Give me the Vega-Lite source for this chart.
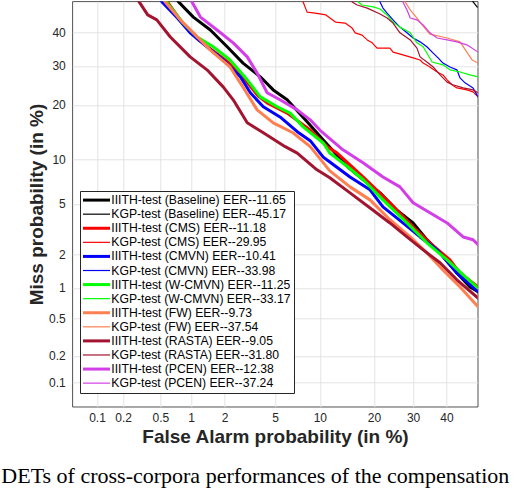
{
  "$schema": "https://vega.github.io/schema/vega-lite/v6.json",
  "autosize": {"type": "none"},
  "padding": {"left": 72.3, "top": 1.3, "right": 36.3, "bottom": 81.3},
  "width": 405.4,
  "height": 405.4,
  "background": "white",
  "title": {
    "text": "DETs of cross-corpora performances of the compensation",
    "orient": "bottom",
    "anchor": "start",
    "frame": "group",
    "dx": -71,
    "offset": 36,
    "baseline": "alphabetic",
    "font": "Liberation Serif",
    "fontSize": 22,
    "fontWeight": "normal",
    "color": "#000000"
  },
  "config": {
    "view": {"stroke": "#262626", "strokeWidth": 0.8},
    "font": "Liberation Sans",
    "legend": {"labelFontSize": 12.2, "labelFont": "Liberation Sans"}
  },
  "datasets": {
    "curves": [
      {"series": "IIITH-test (Baseline) EER--11.65", "fa": 0.69, "miss": 52.0},
      {"series": "IIITH-test (Baseline) EER--11.65", "fa": 0.76, "miss": 49.8},
      {"series": "IIITH-test (Baseline) EER--11.65", "fa": 1.05, "miss": 44.9},
      {"series": "IIITH-test (Baseline) EER--11.65", "fa": 1.50, "miss": 40.8},
      {"series": "IIITH-test (Baseline) EER--11.65", "fa": 2.10, "miss": 35.6},
      {"series": "IIITH-test (Baseline) EER--11.65", "fa": 2.84, "miss": 30.8},
      {"series": "IIITH-test (Baseline) EER--11.65", "fa": 3.88, "miss": 27.0},
      {"series": "IIITH-test (Baseline) EER--11.65", "fa": 4.85, "miss": 23.6},
      {"series": "IIITH-test (Baseline) EER--11.65", "fa": 6.10, "miss": 21.2},
      {"series": "IIITH-test (Baseline) EER--11.65", "fa": 8.31, "miss": 16.4},
      {"series": "IIITH-test (Baseline) EER--11.65", "fa": 10.5, "miss": 13.0},
      {"series": "IIITH-test (Baseline) EER--11.65", "fa": 14.5, "miss": 9.0},
      {"series": "IIITH-test (Baseline) EER--11.65", "fa": 17.6, "miss": 7.4},
      {"series": "IIITH-test (Baseline) EER--11.65", "fa": 21.4, "miss": 6.0},
      {"series": "IIITH-test (Baseline) EER--11.65", "fa": 25.6, "miss": 4.5},
      {"series": "IIITH-test (Baseline) EER--11.65", "fa": 30.0, "miss": 3.6},
      {"series": "IIITH-test (Baseline) EER--11.65", "fa": 34.0, "miss": 2.65},
      {"series": "IIITH-test (Baseline) EER--11.65", "fa": 38.0, "miss": 2.06},
      {"series": "IIITH-test (Baseline) EER--11.65", "fa": 43.3, "miss": 1.37},
      {"series": "IIITH-test (Baseline) EER--11.65", "fa": 47.5, "miss": 1.02},
      {"series": "IIITH-test (Baseline) EER--11.65", "fa": 50.1, "miss": 0.92},
      {"series": "IIITH-test (Baseline) EER--11.65", "fa": 52.7, "miss": 0.80},

      {"series": "KGP-test (Baseline) EER--45.17", "fa": 47.5, "miss": 52.0},
      {"series": "KGP-test (Baseline) EER--45.17", "fa": 48.5, "miss": 49.8},
      {"series": "KGP-test (Baseline) EER--45.17", "fa": 49.8, "miss": 48.2},
      {"series": "KGP-test (Baseline) EER--45.17", "fa": 52.7, "miss": 46.5},

      {"series": "IIITH-test (CMS) EER--11.18", "fa": 0.54, "miss": 52.0},
      {"series": "IIITH-test (CMS) EER--11.18", "fa": 0.59, "miss": 49.8},
      {"series": "IIITH-test (CMS) EER--11.18", "fa": 0.84, "miss": 42.7},
      {"series": "IIITH-test (CMS) EER--11.18", "fa": 1.17, "miss": 37.7},
      {"series": "IIITH-test (CMS) EER--11.18", "fa": 1.56, "miss": 34.6},
      {"series": "IIITH-test (CMS) EER--11.18", "fa": 2.14, "miss": 31.1},
      {"series": "IIITH-test (CMS) EER--11.18", "fa": 2.95, "miss": 26.2},
      {"series": "IIITH-test (CMS) EER--11.18", "fa": 3.74, "miss": 22.1},
      {"series": "IIITH-test (CMS) EER--11.18", "fa": 4.37, "miss": 20.5},
      {"series": "IIITH-test (CMS) EER--11.18", "fa": 6.10, "miss": 18.2},
      {"series": "IIITH-test (CMS) EER--11.18", "fa": 8.70, "miss": 14.8},
      {"series": "IIITH-test (CMS) EER--11.18", "fa": 11.1, "miss": 11.9},
      {"series": "IIITH-test (CMS) EER--11.18", "fa": 12.7, "miss": 10.9},
      {"series": "IIITH-test (CMS) EER--11.18", "fa": 17.6, "miss": 7.7},
      {"series": "IIITH-test (CMS) EER--11.18", "fa": 23.8, "miss": 5.10},
      {"series": "IIITH-test (CMS) EER--11.18", "fa": 30.0, "miss": 3.36},
      {"series": "IIITH-test (CMS) EER--11.18", "fa": 34.9, "miss": 2.50},
      {"series": "IIITH-test (CMS) EER--11.18", "fa": 41.1, "miss": 1.79},
      {"series": "IIITH-test (CMS) EER--11.18", "fa": 44.3, "miss": 1.37},
      {"series": "IIITH-test (CMS) EER--11.18", "fa": 50.1, "miss": 1.02},
      {"series": "IIITH-test (CMS) EER--11.18", "fa": 52.7, "miss": 0.92},

      {"series": "KGP-test (CMS) EER--29.95", "fa": 7.48, "miss": 52.0},
      {"series": "KGP-test (CMS) EER--29.95", "fa": 7.83, "miss": 49.8},
      {"series": "KGP-test (CMS) EER--29.95", "fa": 8.05, "miss": 48.2},
      {"series": "KGP-test (CMS) EER--29.95", "fa": 8.31, "miss": 46.5},
      {"series": "KGP-test (CMS) EER--29.95", "fa": 9.35, "miss": 46.2},
      {"series": "KGP-test (CMS) EER--29.95", "fa": 10.9, "miss": 45.6},
      {"series": "KGP-test (CMS) EER--29.95", "fa": 12.4, "miss": 43.3},
      {"series": "KGP-test (CMS) EER--29.95", "fa": 14.1, "miss": 43.0},
      {"series": "KGP-test (CMS) EER--29.95", "fa": 15.4, "miss": 41.4},
      {"series": "KGP-test (CMS) EER--29.95", "fa": 16.0, "miss": 39.9},
      {"series": "KGP-test (CMS) EER--29.95", "fa": 17.4, "miss": 39.2},
      {"series": "KGP-test (CMS) EER--29.95", "fa": 18.5, "miss": 37.7},
      {"series": "KGP-test (CMS) EER--29.95", "fa": 19.6, "miss": 36.8},
      {"series": "KGP-test (CMS) EER--29.95", "fa": 20.7, "miss": 35.2},
      {"series": "KGP-test (CMS) EER--29.95", "fa": 23.8, "miss": 35.2},
      {"series": "KGP-test (CMS) EER--29.95", "fa": 24.6, "miss": 34.0},
      {"series": "KGP-test (CMS) EER--29.95", "fa": 27.2, "miss": 33.2},
      {"series": "KGP-test (CMS) EER--29.95", "fa": 30.0, "miss": 32.3},
      {"series": "KGP-test (CMS) EER--29.95", "fa": 32.0, "miss": 31.7},
      {"series": "KGP-test (CMS) EER--29.95", "fa": 32.9, "miss": 30.8},
      {"series": "KGP-test (CMS) EER--29.95", "fa": 34.9, "miss": 29.7},
      {"series": "KGP-test (CMS) EER--29.95", "fa": 37.1, "miss": 28.3},
      {"series": "KGP-test (CMS) EER--29.95", "fa": 38.9, "miss": 27.5},
      {"series": "KGP-test (CMS) EER--29.95", "fa": 40.2, "miss": 26.2},
      {"series": "KGP-test (CMS) EER--29.95", "fa": 41.7, "miss": 24.9},
      {"series": "KGP-test (CMS) EER--29.95", "fa": 43.3, "miss": 24.1},
      {"series": "KGP-test (CMS) EER--29.95", "fa": 46.5, "miss": 23.6},
      {"series": "KGP-test (CMS) EER--29.95", "fa": 48.5, "miss": 23.1},
      {"series": "KGP-test (CMS) EER--29.95", "fa": 50.1, "miss": 21.9},
      {"series": "KGP-test (CMS) EER--29.95", "fa": 52.7, "miss": 21.2},

      {"series": "IIITH-test (CMVN) EER--10.41", "fa": 0.47, "miss": 52.0},
      {"series": "IIITH-test (CMVN) EER--10.41", "fa": 0.52, "miss": 49.8},
      {"series": "IIITH-test (CMVN) EER--10.41", "fa": 0.74, "miss": 44.6},
      {"series": "IIITH-test (CMVN) EER--10.41", "fa": 0.98, "miss": 39.9},
      {"series": "IIITH-test (CMVN) EER--10.41", "fa": 1.40, "miss": 35.6},
      {"series": "IIITH-test (CMVN) EER--10.41", "fa": 1.95, "miss": 31.7},
      {"series": "IIITH-test (CMVN) EER--10.41", "fa": 2.70, "miss": 27.0},
      {"series": "IIITH-test (CMVN) EER--10.41", "fa": 3.25, "miss": 22.9},
      {"series": "IIITH-test (CMVN) EER--10.41", "fa": 4.09, "miss": 19.6},
      {"series": "IIITH-test (CMVN) EER--10.41", "fa": 5.43, "miss": 17.4},
      {"series": "IIITH-test (CMVN) EER--10.41", "fa": 7.15, "miss": 14.5},
      {"series": "IIITH-test (CMVN) EER--10.41", "fa": 8.70, "miss": 12.9},
      {"series": "IIITH-test (CMVN) EER--10.41", "fa": 10.5, "miss": 10.3},
      {"series": "IIITH-test (CMVN) EER--10.41", "fa": 11.5, "miss": 9.6},
      {"series": "IIITH-test (CMVN) EER--10.41", "fa": 15.0, "miss": 7.7},
      {"series": "IIITH-test (CMVN) EER--10.41", "fa": 19.1, "miss": 6.3},
      {"series": "IIITH-test (CMVN) EER--10.41", "fa": 22.1, "miss": 4.76},
      {"series": "IIITH-test (CMVN) EER--10.41", "fa": 27.2, "miss": 3.6},
      {"series": "IIITH-test (CMVN) EER--10.41", "fa": 32.0, "miss": 2.79},
      {"series": "IIITH-test (CMVN) EER--10.41", "fa": 37.1, "miss": 2.18},
      {"series": "IIITH-test (CMVN) EER--10.41", "fa": 43.3, "miss": 1.37},
      {"series": "IIITH-test (CMVN) EER--10.41", "fa": 50.1, "miss": 0.92},
      {"series": "IIITH-test (CMVN) EER--10.41", "fa": 52.7, "miss": 0.82},

      {"series": "KGP-test (CMVN) EER--33.98", "fa": 20.9, "miss": 52.0},
      {"series": "KGP-test (CMVN) EER--33.98", "fa": 21.4, "miss": 49.8},
      {"series": "KGP-test (CMVN) EER--33.98", "fa": 22.1, "miss": 47.8},
      {"series": "KGP-test (CMVN) EER--33.98", "fa": 23.1, "miss": 46.2},
      {"series": "KGP-test (CMVN) EER--33.98", "fa": 24.6, "miss": 44.0},
      {"series": "KGP-test (CMVN) EER--33.98", "fa": 26.4, "miss": 41.7},
      {"series": "KGP-test (CMVN) EER--33.98", "fa": 28.3, "miss": 39.9},
      {"series": "KGP-test (CMVN) EER--33.98", "fa": 30.0, "miss": 38.3},
      {"series": "KGP-test (CMVN) EER--33.98", "fa": 32.0, "miss": 37.1},
      {"series": "KGP-test (CMVN) EER--33.98", "fa": 34.0, "miss": 35.6},
      {"series": "KGP-test (CMVN) EER--33.98", "fa": 35.9, "miss": 33.7},
      {"series": "KGP-test (CMVN) EER--33.98", "fa": 37.4, "miss": 32.3},
      {"series": "KGP-test (CMVN) EER--33.98", "fa": 38.9, "miss": 30.8},
      {"series": "KGP-test (CMVN) EER--33.98", "fa": 41.1, "miss": 29.7},
      {"series": "KGP-test (CMVN) EER--33.98", "fa": 43.3, "miss": 28.9},
      {"series": "KGP-test (CMVN) EER--33.98", "fa": 44.3, "miss": 26.7},
      {"series": "KGP-test (CMVN) EER--33.98", "fa": 45.9, "miss": 25.4},
      {"series": "KGP-test (CMVN) EER--33.98", "fa": 48.5, "miss": 24.1},
      {"series": "KGP-test (CMVN) EER--33.98", "fa": 50.1, "miss": 21.9},
      {"series": "KGP-test (CMVN) EER--33.98", "fa": 52.0, "miss": 20.7},

      {"series": "IIITH-test (W-CMVN) EER--11.25", "fa": 0.54, "miss": 52.0},
      {"series": "IIITH-test (W-CMVN) EER--11.25", "fa": 0.59, "miss": 49.4},
      {"series": "IIITH-test (W-CMVN) EER--11.25", "fa": 0.84, "miss": 43.0},
      {"series": "IIITH-test (W-CMVN) EER--11.25", "fa": 1.14, "miss": 38.6},
      {"series": "IIITH-test (W-CMVN) EER--11.25", "fa": 1.59, "miss": 35.6},
      {"series": "IIITH-test (W-CMVN) EER--11.25", "fa": 2.22, "miss": 31.7},
      {"series": "IIITH-test (W-CMVN) EER--11.25", "fa": 3.07, "miss": 26.2},
      {"series": "IIITH-test (W-CMVN) EER--11.25", "fa": 3.88, "miss": 21.9},
      {"series": "IIITH-test (W-CMVN) EER--11.25", "fa": 5.18, "miss": 19.6},
      {"series": "IIITH-test (W-CMVN) EER--11.25", "fa": 6.40, "miss": 18.2},
      {"series": "IIITH-test (W-CMVN) EER--11.25", "fa": 7.83, "miss": 15.4},
      {"series": "IIITH-test (W-CMVN) EER--11.25", "fa": 10.5, "miss": 12.5},
      {"series": "IIITH-test (W-CMVN) EER--11.25", "fa": 11.5, "miss": 10.9},
      {"series": "IIITH-test (W-CMVN) EER--11.25", "fa": 14.5, "miss": 9.0},
      {"series": "IIITH-test (W-CMVN) EER--11.25", "fa": 17.6, "miss": 7.4},
      {"series": "IIITH-test (W-CMVN) EER--11.25", "fa": 22.1, "miss": 5.35},
      {"series": "IIITH-test (W-CMVN) EER--11.25", "fa": 28.3, "miss": 3.6},
      {"series": "IIITH-test (W-CMVN) EER--11.25", "fa": 34.0, "miss": 2.50},
      {"series": "IIITH-test (W-CMVN) EER--11.25", "fa": 40.2, "miss": 1.79},
      {"series": "IIITH-test (W-CMVN) EER--11.25", "fa": 45.3, "miss": 1.32},
      {"series": "IIITH-test (W-CMVN) EER--11.25", "fa": 50.1, "miss": 1.00},
      {"series": "IIITH-test (W-CMVN) EER--11.25", "fa": 52.7, "miss": 0.88},

      {"series": "KGP-test (W-CMVN) EER--33.17", "fa": 16.2, "miss": 52.0},
      {"series": "KGP-test (W-CMVN) EER--33.17", "fa": 16.6, "miss": 49.8},
      {"series": "KGP-test (W-CMVN) EER--33.17", "fa": 17.4, "miss": 48.8},
      {"series": "KGP-test (W-CMVN) EER--33.17", "fa": 19.8, "miss": 48.2},
      {"series": "KGP-test (W-CMVN) EER--33.17", "fa": 21.4, "miss": 47.5},
      {"series": "KGP-test (W-CMVN) EER--33.17", "fa": 23.1, "miss": 45.6},
      {"series": "KGP-test (W-CMVN) EER--33.17", "fa": 24.6, "miss": 43.3},
      {"series": "KGP-test (W-CMVN) EER--33.17", "fa": 26.4, "miss": 41.7},
      {"series": "KGP-test (W-CMVN) EER--33.17", "fa": 29.2, "miss": 39.9},
      {"series": "KGP-test (W-CMVN) EER--33.17", "fa": 31.1, "miss": 36.8},
      {"series": "KGP-test (W-CMVN) EER--33.17", "fa": 32.9, "miss": 35.6},
      {"series": "KGP-test (W-CMVN) EER--33.17", "fa": 34.3, "miss": 33.2},
      {"series": "KGP-test (W-CMVN) EER--33.17", "fa": 35.6, "miss": 31.1},
      {"series": "KGP-test (W-CMVN) EER--33.17", "fa": 38.9, "miss": 30.3},
      {"series": "KGP-test (W-CMVN) EER--33.17", "fa": 41.1, "miss": 28.9},
      {"series": "KGP-test (W-CMVN) EER--33.17", "fa": 44.3, "miss": 28.3},
      {"series": "KGP-test (W-CMVN) EER--33.17", "fa": 47.5, "miss": 27.5},
      {"series": "KGP-test (W-CMVN) EER--33.17", "fa": 50.1, "miss": 27.0},
      {"series": "KGP-test (W-CMVN) EER--33.17", "fa": 52.7, "miss": 26.4},

      {"series": "IIITH-test (FW) EER--9.73", "fa": 0.51, "miss": 52.0},
      {"series": "IIITH-test (FW) EER--9.73", "fa": 0.56, "miss": 49.8},
      {"series": "IIITH-test (FW) EER--9.73", "fa": 0.79, "miss": 44.0},
      {"series": "IIITH-test (FW) EER--9.73", "fa": 1.05, "miss": 39.9},
      {"series": "IIITH-test (FW) EER--9.73", "fa": 1.50, "miss": 34.6},
      {"series": "IIITH-test (FW) EER--9.73", "fa": 2.22, "miss": 29.7},
      {"series": "IIITH-test (FW) EER--9.73", "fa": 2.84, "miss": 24.3},
      {"series": "IIITH-test (FW) EER--9.73", "fa": 3.67, "miss": 18.9},
      {"series": "IIITH-test (FW) EER--9.73", "fa": 4.85, "miss": 16.2},
      {"series": "IIITH-test (FW) EER--9.73", "fa": 6.69, "miss": 14.3},
      {"series": "IIITH-test (FW) EER--9.73", "fa": 8.70, "miss": 11.9},
      {"series": "IIITH-test (FW) EER--9.73", "fa": 11.5, "miss": 8.44},
      {"series": "IIITH-test (FW) EER--9.73", "fa": 15.0, "miss": 6.6},
      {"series": "IIITH-test (FW) EER--9.73", "fa": 19.1, "miss": 5.35},
      {"series": "IIITH-test (FW) EER--9.73", "fa": 23.8, "miss": 3.81},
      {"series": "IIITH-test (FW) EER--9.73", "fa": 29.2, "miss": 2.79},
      {"series": "IIITH-test (FW) EER--9.73", "fa": 34.0, "miss": 2.06},
      {"series": "IIITH-test (FW) EER--9.73", "fa": 38.9, "miss": 1.46},
      {"series": "IIITH-test (FW) EER--9.73", "fa": 44.3, "miss": 1.02},
      {"series": "IIITH-test (FW) EER--9.73", "fa": 50.1, "miss": 0.66},
      {"series": "IIITH-test (FW) EER--9.73", "fa": 52.7, "miss": 0.59},

      {"series": "KGP-test (FW) EER--37.54", "fa": 27.2, "miss": 52.0},
      {"series": "KGP-test (FW) EER--37.54", "fa": 27.8, "miss": 49.8},
      {"series": "KGP-test (FW) EER--37.54", "fa": 29.2, "miss": 47.2},
      {"series": "KGP-test (FW) EER--37.54", "fa": 31.1, "miss": 44.6},
      {"series": "KGP-test (FW) EER--37.54", "fa": 32.9, "miss": 42.0},
      {"series": "KGP-test (FW) EER--37.54", "fa": 34.9, "miss": 39.5},
      {"series": "KGP-test (FW) EER--37.54", "fa": 40.2, "miss": 38.3},
      {"series": "KGP-test (FW) EER--37.54", "fa": 44.3, "miss": 37.1},
      {"series": "KGP-test (FW) EER--37.54", "fa": 46.5, "miss": 34.0},
      {"series": "KGP-test (FW) EER--37.54", "fa": 48.2, "miss": 31.7},
      {"series": "KGP-test (FW) EER--37.54", "fa": 50.1, "miss": 30.8},
      {"series": "KGP-test (FW) EER--37.54", "fa": 52.7, "miss": 29.7},

      {"series": "IIITH-test (RASTA) EER--9.05", "fa": 0.27, "miss": 52.0},
      {"series": "IIITH-test (RASTA) EER--9.05", "fa": 0.30, "miss": 49.8},
      {"series": "IIITH-test (RASTA) EER--9.05", "fa": 0.37, "miss": 45.6},
      {"series": "IIITH-test (RASTA) EER--9.05", "fa": 0.46, "miss": 44.0},
      {"series": "IIITH-test (RASTA) EER--9.05", "fa": 0.63, "miss": 38.6},
      {"series": "IIITH-test (RASTA) EER--9.05", "fa": 0.98, "miss": 32.6},
      {"series": "IIITH-test (RASTA) EER--9.05", "fa": 1.40, "miss": 28.9},
      {"series": "IIITH-test (RASTA) EER--9.05", "fa": 1.95, "miss": 24.3},
      {"series": "IIITH-test (RASTA) EER--9.05", "fa": 2.36, "miss": 21.2},
      {"series": "IIITH-test (RASTA) EER--9.05", "fa": 3.07, "miss": 16.2},
      {"series": "IIITH-test (RASTA) EER--9.05", "fa": 4.09, "miss": 14.3},
      {"series": "IIITH-test (RASTA) EER--9.05", "fa": 5.91, "miss": 11.9},
      {"series": "IIITH-test (RASTA) EER--9.05", "fa": 7.15, "miss": 10.9},
      {"series": "IIITH-test (RASTA) EER--9.05", "fa": 9.6, "miss": 8.57},
      {"series": "IIITH-test (RASTA) EER--9.05", "fa": 11.5, "miss": 7.6},
      {"series": "IIITH-test (RASTA) EER--9.05", "fa": 15.0, "miss": 6.0},
      {"series": "IIITH-test (RASTA) EER--9.05", "fa": 19.8, "miss": 4.5},
      {"series": "IIITH-test (RASTA) EER--9.05", "fa": 23.8, "miss": 3.6},
      {"series": "IIITH-test (RASTA) EER--9.05", "fa": 28.3, "miss": 2.79},
      {"series": "IIITH-test (RASTA) EER--9.05", "fa": 32.9, "miss": 2.18},
      {"series": "IIITH-test (RASTA) EER--9.05", "fa": 38.0, "miss": 1.69},
      {"series": "IIITH-test (RASTA) EER--9.05", "fa": 43.3, "miss": 1.19},
      {"series": "IIITH-test (RASTA) EER--9.05", "fa": 50.1, "miss": 0.80},
      {"series": "IIITH-test (RASTA) EER--9.05", "fa": 52.7, "miss": 0.74},

      {"series": "KGP-test (RASTA) EER--31.80", "fa": 15.0, "miss": 52.0},
      {"series": "KGP-test (RASTA) EER--31.80", "fa": 15.4, "miss": 49.8},
      {"series": "KGP-test (RASTA) EER--31.80", "fa": 16.4, "miss": 48.8},
      {"series": "KGP-test (RASTA) EER--31.80", "fa": 18.5, "miss": 47.8},
      {"series": "KGP-test (RASTA) EER--31.80", "fa": 21.4, "miss": 45.9},
      {"series": "KGP-test (RASTA) EER--31.80", "fa": 23.1, "miss": 44.6},
      {"series": "KGP-test (RASTA) EER--31.80", "fa": 24.6, "miss": 43.0},
      {"series": "KGP-test (RASTA) EER--31.80", "fa": 26.4, "miss": 39.9},
      {"series": "KGP-test (RASTA) EER--31.80", "fa": 29.2, "miss": 37.7},
      {"series": "KGP-test (RASTA) EER--31.80", "fa": 31.1, "miss": 35.2},
      {"series": "KGP-test (RASTA) EER--31.80", "fa": 32.0, "miss": 32.6},
      {"series": "KGP-test (RASTA) EER--31.80", "fa": 34.0, "miss": 31.1},
      {"series": "KGP-test (RASTA) EER--31.80", "fa": 35.9, "miss": 29.7},
      {"series": "KGP-test (RASTA) EER--31.80", "fa": 38.0, "miss": 27.5},
      {"series": "KGP-test (RASTA) EER--31.80", "fa": 40.2, "miss": 25.6},
      {"series": "KGP-test (RASTA) EER--31.80", "fa": 42.0, "miss": 24.9},
      {"series": "KGP-test (RASTA) EER--31.80", "fa": 45.3, "miss": 24.1},
      {"series": "KGP-test (RASTA) EER--31.80", "fa": 48.5, "miss": 23.6},
      {"series": "KGP-test (RASTA) EER--31.80", "fa": 50.1, "miss": 22.9},
      {"series": "KGP-test (RASTA) EER--31.80", "fa": 52.7, "miss": 22.1},

      {"series": "IIITH-test (PCEN) EER--12.38", "fa": 0.94, "miss": 52.0},
      {"series": "IIITH-test (PCEN) EER--12.38", "fa": 1.02, "miss": 49.8},
      {"series": "IIITH-test (PCEN) EER--12.38", "fa": 1.22, "miss": 44.9},
      {"series": "IIITH-test (PCEN) EER--12.38", "fa": 1.72, "miss": 40.8},
      {"series": "IIITH-test (PCEN) EER--12.38", "fa": 2.36, "miss": 36.8},
      {"series": "IIITH-test (PCEN) EER--12.38", "fa": 3.07, "miss": 32.6},
      {"series": "IIITH-test (PCEN) EER--12.38", "fa": 3.67, "miss": 28.0},
      {"series": "IIITH-test (PCEN) EER--12.38", "fa": 4.37, "miss": 22.9},
      {"series": "IIITH-test (PCEN) EER--12.38", "fa": 5.43, "miss": 21.2},
      {"series": "IIITH-test (PCEN) EER--12.38", "fa": 7.15, "miss": 18.9},
      {"series": "IIITH-test (PCEN) EER--12.38", "fa": 8.70, "miss": 16.8},
      {"series": "IIITH-test (PCEN) EER--12.38", "fa": 10.0, "miss": 14.8},
      {"series": "IIITH-test (PCEN) EER--12.38", "fa": 13.7, "miss": 11.4},
      {"series": "IIITH-test (PCEN) EER--12.38", "fa": 17.6, "miss": 9.5},
      {"series": "IIITH-test (PCEN) EER--12.38", "fa": 22.1, "miss": 7.7},
      {"series": "IIITH-test (PCEN) EER--12.38", "fa": 26.4, "miss": 6.6},
      {"series": "IIITH-test (PCEN) EER--12.38", "fa": 30.0, "miss": 5.10},
      {"series": "IIITH-test (PCEN) EER--12.38", "fa": 34.9, "miss": 4.30},
      {"series": "IIITH-test (PCEN) EER--12.38", "fa": 40.2, "miss": 3.6},
      {"series": "IIITH-test (PCEN) EER--12.38", "fa": 45.3, "miss": 2.79},
      {"series": "IIITH-test (PCEN) EER--12.38", "fa": 48.5, "miss": 2.65},
      {"series": "IIITH-test (PCEN) EER--12.38", "fa": 50.1, "miss": 2.41},
      {"series": "IIITH-test (PCEN) EER--12.38", "fa": 52.7, "miss": 2.18},

      {"series": "KGP-test (PCEN) EER--37.24", "fa": 26.7, "miss": 52.0},
      {"series": "KGP-test (PCEN) EER--37.24", "fa": 27.2, "miss": 49.8},
      {"series": "KGP-test (PCEN) EER--37.24", "fa": 28.3, "miss": 47.2},
      {"series": "KGP-test (PCEN) EER--37.24", "fa": 29.2, "miss": 44.6},
      {"series": "KGP-test (PCEN) EER--37.24", "fa": 31.1, "miss": 44.0},
      {"series": "KGP-test (PCEN) EER--37.24", "fa": 32.9, "miss": 42.4},
      {"series": "KGP-test (PCEN) EER--37.24", "fa": 34.9, "miss": 39.9},
      {"series": "KGP-test (PCEN) EER--37.24", "fa": 37.1, "miss": 38.3},
      {"series": "KGP-test (PCEN) EER--37.24", "fa": 40.2, "miss": 37.7},
      {"series": "KGP-test (PCEN) EER--37.24", "fa": 43.3, "miss": 37.1},
      {"series": "KGP-test (PCEN) EER--37.24", "fa": 46.5, "miss": 36.2},
      {"series": "KGP-test (PCEN) EER--37.24", "fa": 50.1, "miss": 34.0},
      {"series": "KGP-test (PCEN) EER--37.24", "fa": 52.7, "miss": 32.9}
    ]
  },
  "data": {"name": "curves"},
  "transform": [
    {"calculate": "quantileNormal(datum.fa / 100)", "as": "fa_probit"},
    {"calculate": "quantileNormal(datum.miss / 100)", "as": "miss_probit"}
  ],
  "mark": {"type": "line", "clip": true, "strokeJoin": "round"},
  "encoding": {
    "x": {
      "field": "fa_probit",
      "type": "quantitative",
      "scale": {"domain": [-3.290527, 0], "nice": false, "zero": false},
      "axis": {
        "title": "False Alarm probability (in %)",
        "values": [-3.090232, -2.878162, -2.575829, -2.326348, -2.053749, -1.644854, -1.281552, -0.841621, -0.524401, -0.253347],
        "labelExpr": "format(round(cumulativeNormal(datum.value) * 1000) / 10, '~g')",
        "grid": true,
        "gridColor": "#e3e3e3",
        "gridWidth": 1,
        "ticks": false,
        "domain": false,
        "labelFont": "Liberation Sans",
        "labelFontSize": 12,
        "labelColor": "#262626",
        "labelPadding": 6,
        "labelFlush": false,
        "labelOverlap": false,
        "titleFont": "Liberation Sans",
        "titleFontSize": 19,
        "titleFontWeight": "bold",
        "titleColor": "#262626",
        "titlePadding": 4
      }
    },
    "y": {
      "field": "miss_probit",
      "type": "quantitative",
      "scale": {"domain": [-3.290527, 0], "nice": false, "zero": false},
      "axis": {
        "title": "Miss probability (in %)",
        "values": [-3.090232, -2.878162, -2.575829, -2.326348, -2.053749, -1.644854, -1.281552, -0.841621, -0.524401, -0.253347],
        "labelExpr": "format(round(cumulativeNormal(datum.value) * 1000) / 10, '~g')",
        "grid": true,
        "gridColor": "#e3e3e3",
        "gridWidth": 1,
        "ticks": false,
        "domain": false,
        "labelFont": "Liberation Sans",
        "labelFontSize": 12,
        "labelColor": "#262626",
        "labelPadding": 7,
        "labelFlush": false,
        "labelOverlap": false,
        "titleFont": "Liberation Sans",
        "titleFontSize": 19,
        "titleFontWeight": "bold",
        "titleColor": "#262626",
        "titlePadding": 2
      }
    },
    "color": {
      "field": "series",
      "type": "nominal",
      "scale": {
        "domain": [
          "IIITH-test (Baseline) EER--11.65", "KGP-test (Baseline) EER--45.17",
          "IIITH-test (CMS) EER--11.18", "KGP-test (CMS) EER--29.95",
          "IIITH-test (CMVN) EER--10.41", "KGP-test (CMVN) EER--33.98",
          "IIITH-test (W-CMVN) EER--11.25", "KGP-test (W-CMVN) EER--33.17",
          "IIITH-test (FW) EER--9.73", "KGP-test (FW) EER--37.54",
          "IIITH-test (RASTA) EER--9.05", "KGP-test (RASTA) EER--31.80",
          "IIITH-test (PCEN) EER--12.38", "KGP-test (PCEN) EER--37.24"
        ],
        "range": [
          "#000000", "#000000", "#ff0000", "#ff0000", "#0000ff", "#0000ff",
          "#00ff00", "#00ff00", "#ff7f50", "#ff7f50", "#a2142f", "#a2142f",
          "#d43ee8", "#d43ee8"
        ]
      },
      "legend": {
        "orient": "none",
        "legendX": 7.7,
        "legendY": 189.7,
        "title": null,
        "symbolType": "M-3.86,0H3.86",
        "symbolSize": 49,
        "symbolOffset": 7.4,
        "labelOffset": 8.7,
        "labelFont": "Liberation Sans",
        "labelFontSize": 12.2,
        "labelColor": "#000000",
        "labelLimit": 300,
        "rowPadding": 1.08,
        "padding": 3,
        "strokeColor": "#262626",
        "fillColor": "#ffffff"
      }
    },
    "strokeWidth": {
      "field": "series",
      "type": "nominal",
      "scale": {
        "type": "ordinal",
        "domain": [
          "IIITH-test (Baseline) EER--11.65", "KGP-test (Baseline) EER--45.17",
          "IIITH-test (CMS) EER--11.18", "KGP-test (CMS) EER--29.95",
          "IIITH-test (CMVN) EER--10.41", "KGP-test (CMVN) EER--33.98",
          "IIITH-test (W-CMVN) EER--11.25", "KGP-test (W-CMVN) EER--33.17",
          "IIITH-test (FW) EER--9.73", "KGP-test (FW) EER--37.54",
          "IIITH-test (RASTA) EER--9.05", "KGP-test (RASTA) EER--31.80",
          "IIITH-test (PCEN) EER--12.38", "KGP-test (PCEN) EER--37.24"
        ],
        "range": [3, 1.2, 3, 1.2, 3, 1.2, 3, 1.2, 3, 1.2, 3, 1.2, 3, 1.2]
      },
      "legend": {
        "orient": "none",
        "legendX": 7.7,
        "legendY": 189.7,
        "title": null,
        "symbolType": "M-3.86,0H3.86",
        "symbolSize": 49,
        "symbolOffset": 7.4,
        "labelOffset": 8.7,
        "labelFont": "Liberation Sans",
        "labelFontSize": 12.2,
        "labelColor": "#000000",
        "labelLimit": 300,
        "rowPadding": 1.08,
        "padding": 3,
        "strokeColor": "#262626",
        "fillColor": "#ffffff"
      }
    }
  }
}
